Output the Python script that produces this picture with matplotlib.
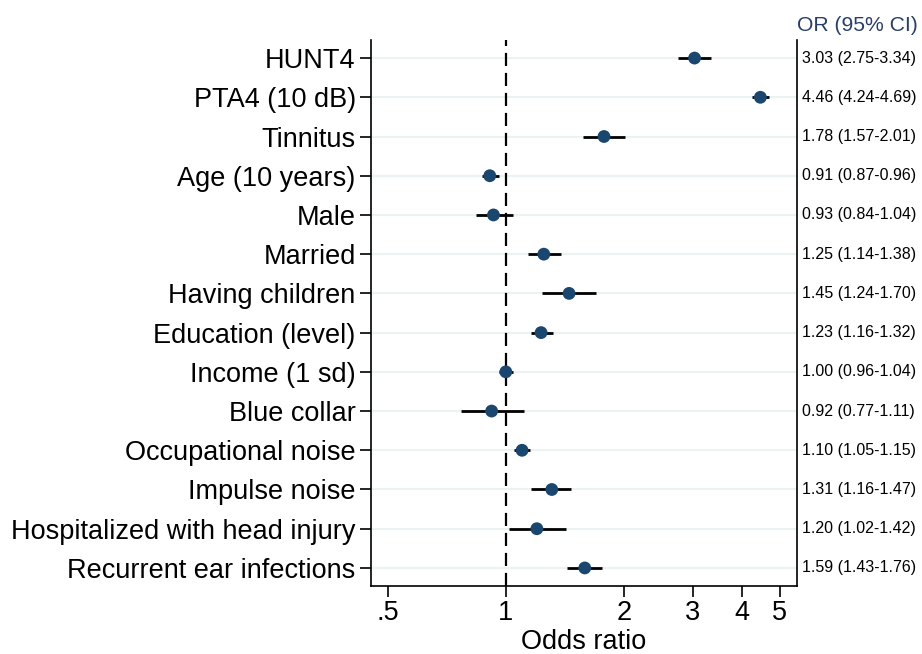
import numpy as np
import matplotlib
matplotlib.use("Agg")
import matplotlib.pyplot as plt
from matplotlib.ticker import FixedLocator, NullLocator

plt.rcParams['font.family'] = ['Liberation Sans', 'DejaVu Sans']

labels = ["HUNT4", "PTA4 (10 dB)", "Tinnitus", "Age (10 years)", "Male", "Married",
          "Having children", "Education (level)", "Income (1 sd)", "Blue collar",
          "Occupational noise", "Impulse noise", "Hospitalized with head injury",
          "Recurrent ear infections"]
odds = [3.03, 4.46, 1.78, 0.91, 0.93, 1.25, 1.45, 1.23, 1.00, 0.92, 1.10, 1.31, 1.20, 1.59]
lower = [2.75, 4.24, 1.57, 0.87, 0.84, 1.14, 1.24, 1.16, 0.96, 0.77, 1.05, 1.16, 1.02, 1.43]
upper = [3.34, 4.69, 2.01, 0.96, 1.04, 1.38, 1.70, 1.32, 1.04, 1.11, 1.15, 1.47, 1.42, 1.76]
xticks = [0.5, 1, 2, 3, 4, 5]
xticklabels = [".5", "1", "2", "3", "4", "5"]

navy = "#1a476f"
pos = np.arange(1, len(labels) + 1)

fig = plt.figure(figsize=(9.22, 6.54), dpi=100)
ax = fig.add_axes([0.4024, 0.104, 0.4620, 0.8348])

for y in pos:
    ax.axhline(y, color="#eaf2f3", lw=1.5, zorder=0)
ax.axvline(1, color="black", lw=1.6, ls=(0, (5.9, 3.1)), zorder=1)
ax.hlines(pos, lower, upper, color="black", lw=2, zorder=2)
ax.scatter(odds, pos, s=85, color=navy, zorder=3, edgecolors="none")

ax.set_xscale("log")
ax.set_xlim(0.453, 5.53)
ax.set_ylim(len(labels) + 0.46, 0.54)
ax.xaxis.set_major_locator(FixedLocator(xticks))
ax.xaxis.set_minor_locator(NullLocator())
ax.set_xticklabels(xticklabels)
ax.set_yticks(pos)
ax.set_yticklabels(labels)
ax.tick_params(axis="both", labelsize=19.5, length=8, width=1.2, direction="out")
ax.tick_params(axis="y", pad=3)
ax.tick_params(axis="x", pad=2)
ax.set_xlabel("Odds ratio", fontsize=19.5, labelpad=2)

ax.spines["top"].set_visible(False)
for s in ["left", "right", "bottom"]:
    ax.spines[s].set_linewidth(1.2)

for y, o, l, u in zip(pos, odds, lower, upper):
    ax.text(1.012, y, f"{o:.2f} ({l:.2f}-{u:.2f})", transform=ax.get_yaxis_transform(),
            va="center", ha="left", fontsize=11.5)
ax.text(1.0, 1.01, "OR (95% CI)", transform=ax.transAxes, ha="left", va="bottom",
        fontsize=15.2, color="#263e6c")

fig.savefig("out.png", dpi=100)
